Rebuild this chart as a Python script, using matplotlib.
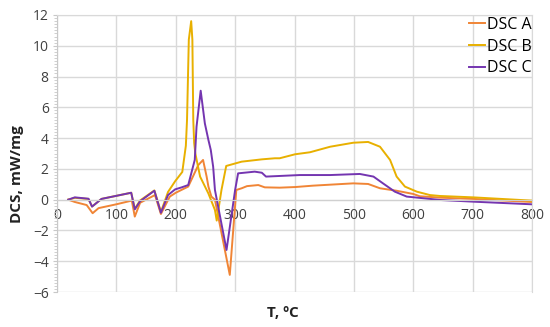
import matplotlib
matplotlib.use("Agg")
import matplotlib.pyplot as plt
from matplotlib.ticker import MultipleLocator

plt.rcParams['font.family'] = ['Open Sans', 'DejaVu Sans']

# DSC A (orange)
t_a = [19, 30, 50, 60, 70, 100, 126, 131, 140, 165, 175, 190, 200, 221, 238, 246, 252,
       255, 260, 266, 291, 302, 311, 320, 339, 350, 375, 401, 431, 499, 524, 544, 572,
       600, 611, 628, 645, 701, 799]
y_a = [0, -0.15, -0.35, -0.88, -0.55, -0.3, -0.06, -1.1, -0.2, 0.3, -0.93, 0.2, 0.45,
       0.85, 2.25, 2.58, 1.5, 0.85, 0.2, 0.0, -4.89, 0.63, 0.74, 0.88, 0.95, 0.8, 0.78,
       0.82, 0.91, 1.06, 1.02, 0.74, 0.58, 0.37, 0.22, 0.18, 0.13, 0.05, -0.15]

# DSC B (yellow)
t_b = [19, 30, 53, 59, 75, 100, 125, 131, 140, 164, 175, 187, 199, 211, 217, 219, 222,
       226, 228, 229.5, 231, 233, 241, 255, 266, 269, 277, 285, 311, 345, 367, 375, 401,
       426, 460, 499, 524, 544, 561, 572, 586, 606, 628, 645, 701, 799]
y_b = [0, 0.12, 0.05, -0.45, 0.05, 0.25, 0.45, -0.6, -0.05, 0.6, -0.8, 0.5, 1.2, 1.8,
       3.5, 5.2, 10.4, 11.6, 10.4, 5.2, 3.68, 3.0, 1.5, 0.4, -0.67, -1.36, 0.63, 2.19,
       2.47, 2.62, 2.69, 2.69, 2.95, 3.08, 3.44, 3.70, 3.75, 3.44, 2.58, 1.5, 0.85, 0.52,
       0.3, 0.24, 0.15, -0.06]

# DSC C (purple)
t_c = [19, 30, 53, 59, 75, 100, 125, 131, 140, 164, 175, 187, 199, 210, 221, 232, 235,
       242, 249, 255, 259, 263, 266, 285.5, 300, 305, 333, 345, 352, 375, 409, 460, 510,
       533, 549, 569, 589, 628, 645, 701, 799]
y_c = [0, 0.15, 0.06, -0.45, 0.05, 0.25, 0.45, -0.63, -0.1, 0.58, -0.85, 0.3, 0.67, 0.8,
       0.95, 2.58, 4.74, 7.08, 4.96, 3.88, 3.23, 2.14, 0.63, -3.27, 0.63, 1.71, 1.82, 1.75,
       1.5, 1.54, 1.6, 1.6, 1.67, 1.5, 1.06, 0.52, 0.2, 0.05, -0.02, -0.13, -0.3]

labels = ["DSC A", "DSC B", "DSC C"]
colors = ["#F08536", "#E8B000", "#7435B0"]

fig = plt.figure(figsize=(5.5, 3.27), dpi=100)
ax = fig.add_axes([57/550, 1-292/327, (532-57)/550, (292-15)/327])

for t, y, lab, c in zip([t_a, t_b, t_c], [y_a, y_b, y_c], labels, colors):
    ax.plot(t, y, color=c, lw=1.4, label=lab, solid_joinstyle='round')

ax.set_xlim(0, 800)
ax.set_ylim(-6, 12)
ax.xaxis.set_major_locator(MultipleLocator(100))
ax.yaxis.set_major_locator(MultipleLocator(2))
ax.yaxis.set_minor_locator(MultipleLocator(0.2))
ax.grid(True, which='major', color='#d9d9d9', lw=1.0)
ax.set_axisbelow(True)

for s in ['top', 'right']:
    ax.spines[s].set_color('#d9d9d9')
ax.spines['left'].set_color('#c8c8c8')
ax.spines['bottom'].set_position(('data', 0))
ax.spines['bottom'].set_color('#d0d0d0')

ax.tick_params(axis='x', length=0, pad=6, labelsize=10, labelcolor='#404040')
ax.tick_params(axis='y', which='major', length=3, color='#c8c8c8', labelsize=10,
               labelcolor='#404040', pad=3)
ax.tick_params(axis='y', which='minor', length=2, color='#c8c8c8')

fig.text(17/550, 153/327, "DCS, mW/mg", rotation=90, ha='center', va='center',
         fontsize=11, fontweight='bold', color='#222222')
fig.text(283/550, 1-313/327, "T, ºC", ha='center', va='center',
         fontsize=11, fontweight='bold', color='#222222')

leg = ax.legend(loc='upper right', bbox_to_anchor=(532/550, 1-17/327),
                bbox_transform=fig.transFigure, frameon=False, fontsize=11.5,
                handlelength=1.0, handletextpad=0.15, labelspacing=0.35,
                borderaxespad=0, borderpad=0)

fig.savefig("out.png", dpi=100)
